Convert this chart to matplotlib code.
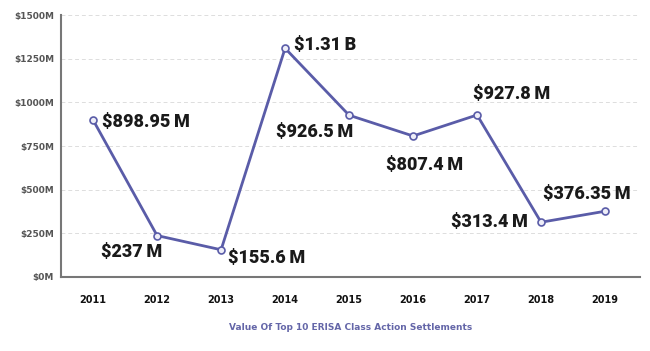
import matplotlib.pyplot as plt

years = ['2011', '2012', '2013', '2014', '2015', '2016', '2017', '2018', '2019']
values = [898.95, 237, 155.6, 1310, 926.5, 807.4, 927.8, 313.4, 376.35]
labels = ['$898.95\u2009M', '$237\u2009M', '$155.6\u2009M', '$1.31\u2009B', '$926.5\u2009M',
          '$807.4\u2009M', '$927.8\u2009M', '$313.4\u2009M', '$376.35\u2009M']
yticks = [0, 250, 500, 750, 1000, 1250, 1500]
ytick_labels = ['$0M', '$250M', '$500M', '$750M', '$1000M', '$1250M', '$1500M']

# label offsets in pixels (dx, dy) and alignment
offsets = [(9, -2, 'left'), (-25, -16, 'center'), (7, -8, 'left'),
           (9, 3, 'left'), (4, -17, 'right'), (11, -29, 'center'),
           (-4, 21, 'left'), (-13, 0, 'right'), (-18, 17, 'center')]

line_color = '#5a5ca8'

fig = plt.figure(figsize=(6.5, 3.51), dpi=100)
ax = fig.add_axes([0.094, 0.211, 0.891, 0.746])

x = list(range(len(years)))
ax.plot(x, values, color=line_color, lw=2, marker='o', ms=5,
        mfc='#eeeef8', mec=line_color, mew=1.2, zorder=3)

for xi, v, lab, (dx, dy, ha) in zip(x, values, labels, offsets):
    ax.annotate(lab, (xi, v), xytext=(dx, dy), textcoords='offset pixels',
                ha=ha, va='center', fontsize=13, fontweight=900,
                family=['Roboto', 'DejaVu Sans'], color='#1a1a1a')

ax.set_xlim(-0.5, 8.55)
ax.set_ylim(0, 1500)
ax.set_xticks(x)
ax.set_xticklabels(years, fontsize=7, fontweight='bold', color='#111111')
ax.set_yticks(yticks)
ax.set_yticklabels(ytick_labels, fontsize=6.5, fontweight='bold', color='#555555')
ax.tick_params(length=0)
ax.tick_params(axis='x', pad=13)
ax.tick_params(axis='y', pad=5)

ax.grid(axis='y', color='#dddddd', ls=(0, (4, 3)), lw=0.7)
ax.set_axisbelow(True)
for s in ['top', 'right']:
    ax.spines[s].set_visible(False)
for s in ['left', 'bottom']:
    ax.spines[s].set_color('#777777')
    ax.spines[s].set_linewidth(1.5)

fig.text(0.54, 0.068, 'Value Of Top 10 ERISA Class Action Settlements',
         ha='center', va='center', fontsize=6.5, fontweight='bold', color='#6466a8')

fig.savefig('out.png', dpi=100)
